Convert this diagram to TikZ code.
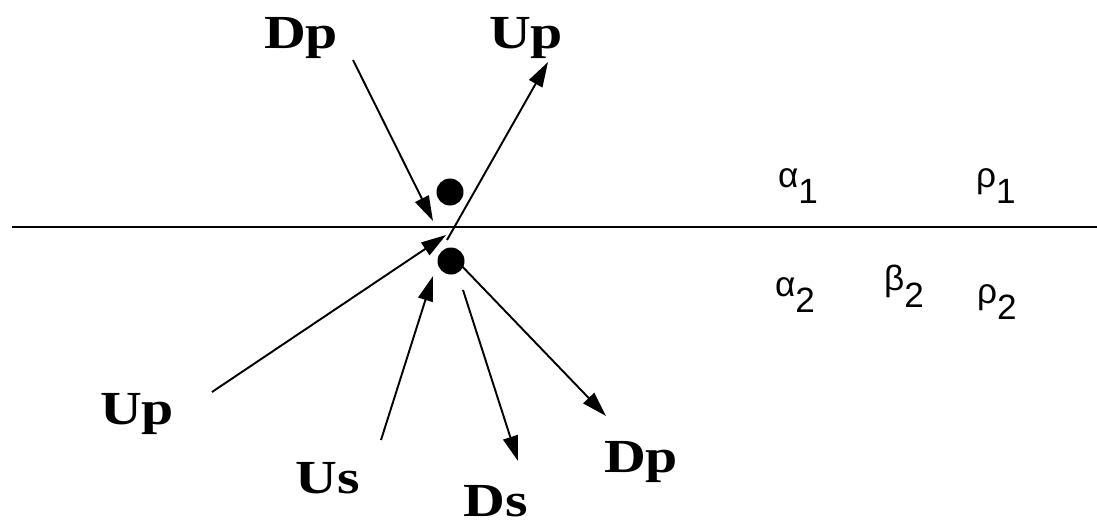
\documentclass[tikz,border=0pt]{standalone}
\usepackage{fontspec}
\setmainfont{Liberation Serif}
\newfontfamily\lblfont[FakeStretch=1.22]{Liberation Serif}
\newfontfamily\greekfont{Liberation Sans}
\usetikzlibrary{arrows.meta}
\begin{document}
\begin{tikzpicture}[x=0.2mm,y=-0.2mm,
  lbl/.style={font=\lblfont\fontsize{27}{32}\selectfont\bfseries,inner sep=0pt},
  grk/.style={font=\greekfont\fontsize{20}{24}\selectfont,inner sep=0pt},
  ray/.style={line width=1.1pt,-{Triangle[length=5mm,width=3mm]}},
  dot/.style={circle,fill=black,inner sep=0pt,minimum size=5.4mm}]
  \useasboundingbox (0,0) rectangle (1097,527);
  % interface
  \coordinate (il) at (12,227);
  \coordinate (ir) at (1097,227);
  \draw[line width=1.6pt] (il) -- (ir);
  % particles
  \node[dot] (top) at (450,192){};
  \node[dot] (bot) at (451,261){};
  % labels
  \node[lbl] (dpin) at (301,38){Dp};
  \node[lbl] (upout) at (526,38){Up};
  \node[lbl] (upin) at (137,414){Up};
  \node[lbl] (usin) at (328,478){Us};
  \node[lbl] (dsout) at (496,501){Ds};
  \node[lbl] (dpout) at (641,462){Dp};
  \node[grk] (a1) at (798,186){α\raisebox{-0.9ex}{1}};
  \node[grk] (r1) at (996,186){ρ\raisebox{-0.9ex}{1}};
  \node[grk] (a2) at (795,295){α\raisebox{-0.9ex}{2}};
  \node[grk] (b2) at (904,286){β\raisebox{-0.9ex}{2}};
  \node[grk] (r2) at (997,302){ρ\raisebox{-0.9ex}{2}};
  % ray ends
  \coordinate (dpa) at (353,60);
  \coordinate (dpb) at (433,221);
  \coordinate (upa) at (447,240);
  \coordinate (upb) at (548,62);
  \coordinate (uia) at (212,392);
  \coordinate (uib) at (446,235);
  \coordinate (usa) at (381,440);
  \coordinate (usb) at (433,276);
  \coordinate (dsa) at (463,290);
  \coordinate (dsb) at (518,461);
  \coordinate (doa) at (458,262);
  \coordinate (dob) at (606,416);
  \draw[ray] (dpa) -- (dpb);
  \draw[ray] (upa) -- (upb);
  \draw[ray] (uia) -- (uib);
  \draw[ray] (usa) -- (usb);
  \draw[ray] (dsa) -- (dsb);
  \draw[ray] (doa) -- (dob);
\end{tikzpicture}
\end{document}
